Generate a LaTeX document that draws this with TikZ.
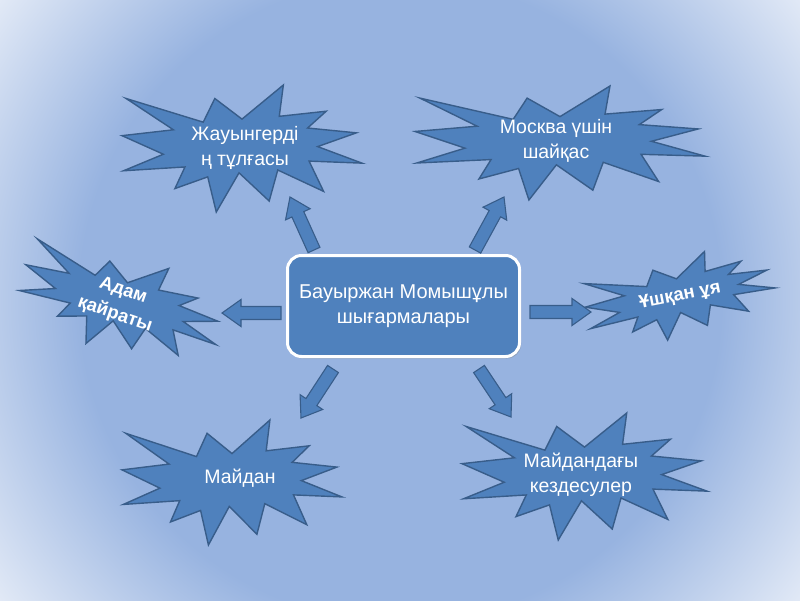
\documentclass[tikz,border=0pt]{standalone}
\usepackage{fontspec}
\setmainfont{Liberation Sans}
\usetikzlibrary{calc,shadows}
\definecolor{bgmid}{RGB}{151,179,224}
\definecolor{bgout}{RGB}{228,235,247}
\definecolor{starfill}{RGB}{79,129,189}
\definecolor{starline}{RGB}{56,93,138}
\pgfdeclareradialshading{bgshade}{\pgfpoint{0bp}{0bp}}{color(0bp)=(bgmid); color(320bp)=(bgmid); color(505bp)=(bgout); color(520bp)=(bgout)}
\tikzset{
  starst/.style={fill=starfill, draw=starline, line width=1.4pt, line join=miter},
  arrowst/.style={fill=starfill, draw=starline, line width=1.1pt, line join=miter},
  txt/.style={text=white, align=center, inner sep=0pt, font=\fontsize{19.5}{24.5}\selectfont},
  btxt/.style={txt, font=\fontsize{18.5}{25}\selectfont\bfseries},
  box/.style={fill=starfill, draw=white, line width=3pt, rounded corners=14pt,
    minimum width=232pt, minimum height=101pt, text=white, align=center,
    font=\fontsize{20}{25}\selectfont, drop shadow={opacity=0.35, shadow xshift=1.5pt, shadow yshift=-2pt}}
}
\newcommand\explosion[5]{%
  \begin{scope}[shift={(#1,#2)}, rotate=#5, xscale=#3/216, yscale=#4/216]
    \draw[starst] (0,-50) -- (37.22,-108) -- (33.55,-54.75) -- (75.8,-63.43) -- (59.02,-34.85)
      -- (102.97,-26.63) -- (68.07,-3.25) -- (108,24.9) -- (60.37,21.42) -- (73.45,72.95)
      -- (32.2,36.57) -- (24.47,89.37) -- (-2.68,41.35) -- (-23.15,108) -- (-30.85,48.27)
      -- (-60.38,68.17) -- (-51.33,31.37) -- (-106.65,37.87) -- (-70.78,9.75) -- (-108,-21.85)
      -- (-61.73,-31.83) -- (-104.3,-85.05) -- (-34.88,-44.8) -- (-24.48,-85.05) -- cycle;
  \end{scope}}
\newcommand\barrow[2]{%
  \coordinate (hb) at ($(#2)!19pt!(#1)$);
  \draw[arrowst] ($(#1)!6.5pt!90:(#2)$) -- ($(hb)!6.5pt!-90:(#1)$) -- ($(hb)!13.5pt!-90:(#1)$)
    -- (#2) -- ($(hb)!13.5pt!90:(#1)$) -- ($(hb)!6.5pt!90:(#1)$) -- ($(#1)!6.5pt!-90:(#2)$) -- cycle;}
\begin{document}
\begin{tikzpicture}[x=1pt, y=-1pt]
  \useasboundingbox (0,0) rectangle (800,600);
  \begin{scope}
    \clip (0,0) rectangle (800,600);
    \fill[bgout] (0,0) rectangle (800,600);
    \node[inner sep=0pt, outer sep=0pt] (bg) at (400,300) {\pgfuseshading{bgshade}};
  \end{scope}
  % stars
  \explosion{242}{148.5}{240}{127}{0}
  \explosion{560}{143}{290}{114}{0}
  \explosion{121}{304}{205}{96}{-17}
  \explosion{680}{297}{190}{80}{11}
  \explosion{232}{482.5}{220}{125}{0}
  \explosion{584.5}{476.5}{245}{127}{0}
  % text nodes
  \node[txt] (s1) at (245,148) {Жауынгерді\\ң тұлғасы};
  \node[txt] (s2) at (556,141) {Москва үшін\\шайқас};
  \node[btxt, rotate=-19] (s3) at (119,303) {Адам\\қайраты};
  \node[btxt, rotate=11] (s4) at (680,296) {Ұшқан ұя};
  \node[txt] (s5) at (240,478) {Майдан};
  \node[txt] (s6) at (581,475) {Майдандағы\\кездесулер};
  % centre
  \node[box] (c) at (403.5,306) {Бауыржан Момышұлы\\шығармалары};
  % arrows
  \coordinate (t1) at (314,250); \coordinate (p1) at (290,197);
  \coordinate (t2) at (475,250); \coordinate (p2) at (504,197);
  \coordinate (t3) at (281,313); \coordinate (p3) at (222,313);
  \coordinate (t4) at (530,312); \coordinate (p4) at (591,312);
  \coordinate (t5) at (333,369); \coordinate (p5) at (301,418);
  \coordinate (t6) at (479,369); \coordinate (p6) at (511,417);
  \barrow{t1}{p1}
  \barrow{t2}{p2}
  \barrow{t3}{p3}
  \barrow{t4}{p4}
  \barrow{t5}{p5}
  \barrow{t6}{p6}
\end{tikzpicture}
\end{document}
